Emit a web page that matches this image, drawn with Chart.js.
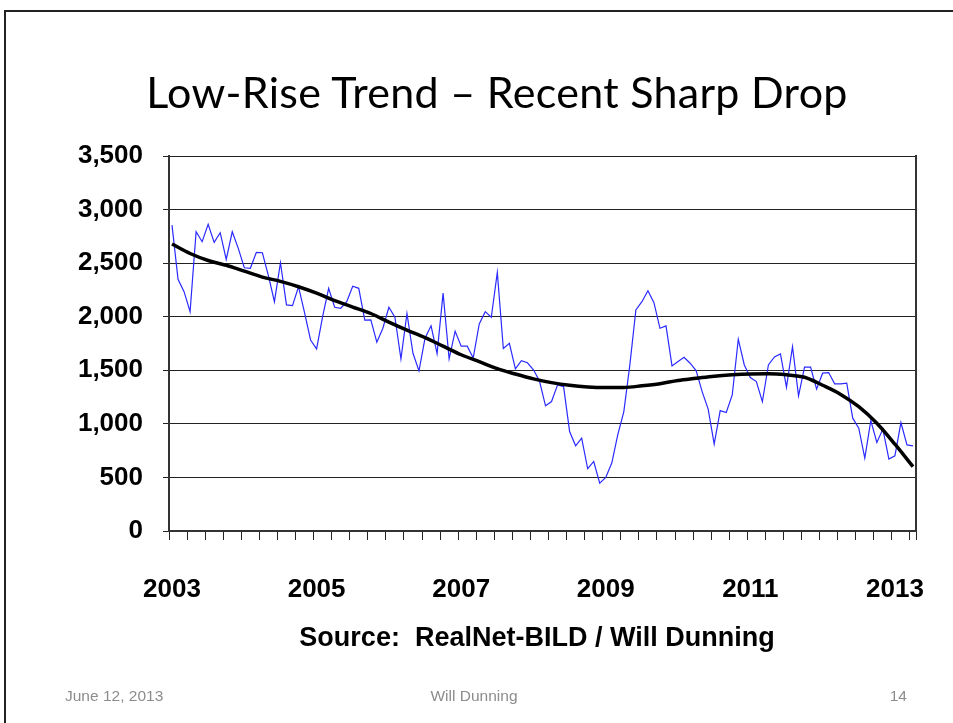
<!DOCTYPE html>
<html>
<head>
<meta charset="utf-8">
<script src="https://cdn.jsdelivr.net/npm/chart.js@4.4.0/dist/chart.umd.min.js"></script>
<style>
  body { margin: 0; background: #fff; }
  #slide { position: relative; width: 953px; height: 723px; overflow: hidden; background: #fff; }
  #frame { position: absolute; left: 4px; top: 10px; width: 2000px; height: 2000px;
           border-left: 2px solid #222; border-top: 2px solid #222; }
  #chart { position: absolute; left: 0; top: 0; }
  .txt { position: absolute; white-space: nowrap; }
  #title { top: 66px; left: 497px; transform: translateX(-50%); font: 43px Lato, "Open Sans", sans-serif; color: #000; letter-spacing: 0.3px; }
  #source { top: 622px; left: 537px; transform: translateX(-50%); font: bold 27px "Liberation Sans", Arial, sans-serif; color: #000; }
  .foot { top: 687px; font: 15.5px "Liberation Sans", Arial, sans-serif; color: #8c8c8c; }
</style>
</head>
<body>
<div id="slide">
  <div id="frame"></div>
  <canvas id="chart" width="953" height="723"></canvas>
  <div id="title" class="txt">Low-Rise Trend – Recent Sharp Drop</div>
  <div id="source" class="txt">Source:&nbsp; RealNet-BILD / Will Dunning</div>
  <div class="txt foot" style="left:65px">June 12, 2013</div>
  <div class="txt foot" style="left:474px; transform: translateX(-50%)">Will Dunning</div>
  <div class="txt foot" style="right:46px">14</div>
</div>
<script>
// monthly categories, Jan 2003 .. Apr 2013
const startYear = 2003;
const monthCount = 124;
const yearLabels = ['2003', '2005', '2007', '2009', '2011', '2013'];

// monthly low-rise sales
const lowRiseSales = [
  2855, 2349, 2234, 2047, 2793, 2700, 2862, 2694, 2784, 2535, 2793, 2638,
  2457, 2452, 2601, 2597, 2383, 2140, 2504, 2110, 2103, 2280, 2038, 1783,
  1700, 2000, 2265, 2088, 2079, 2141, 2285, 2265, 1968, 1970, 1762, 1892,
  2088, 1995, 1606, 2030, 1659, 1495, 1800, 1915, 1655, 2220, 1606, 1865,
  1725, 1725, 1615, 1932, 2047, 1995, 2414, 1703, 1752, 1513, 1590, 1570,
  1505, 1400, 1168, 1208, 1364, 1348, 928, 795, 867, 581, 649, 447,
  500, 634, 900, 1115, 1550, 2063, 2140, 2243, 2131, 1892, 1914, 1541,
  1581, 1622, 1566, 1497, 1301, 1137, 811, 1124, 1106, 1271, 1790, 1550,
  1432, 1395, 1208, 1550, 1625, 1653, 1342, 1721, 1261, 1529, 1529, 1324,
  1473, 1479, 1373, 1373, 1380, 1053, 960, 681, 1031, 826, 951, 671,
  702, 1012, 804, 795
];

// trend line, one reading per quarter (Jan, Apr, Jul, Oct)
const trendQuarterly = [
  2678, 2590, 2525, 2480, 2425, 2370, 2330, 2280, 2220, 2150,
  2090, 2030, 1950, 1875, 1805, 1725, 1645, 1580, 1515, 1465,
  1420, 1385, 1360, 1345, 1340, 1340, 1355, 1375, 1405, 1425,
  1445, 1458, 1466, 1468, 1458, 1435, 1360, 1275, 1160, 1005,
  810, 600
];

const months = [];
for (let i = 0; i < monthCount; i++) {
  const y = startYear + Math.floor(i / 12);
  const m = (i % 12) + 1;
  months.push(y + '-' + (m < 10 ? '0' + m : m));
}
const trendPoints = trendQuarterly.map((v, q) => ({ x: months[q * 3], y: v }));

const axisFont = { family: '"Liberation Sans", Arial', size: 26, weight: 'bold' };

const ctx = document.getElementById('chart').getContext('2d');
new Chart(ctx, {
  type: 'line',
  data: {
    labels: months,
    datasets: [
      {
        label: 'Trend',
        data: trendPoints,
        borderColor: '#000',
        borderWidth: 3.5,
        pointRadius: 0,
        tension: 0.4,
        cubicInterpolationMode: 'monotone',
        order: 0
      },
      {
        label: 'Low-rise sales',
        data: lowRiseSales,
        borderColor: '#2a2aff',
        borderWidth: 1.2,
        pointRadius: 0,
        tension: 0,
        order: 1
      }
    ]
  },
  options: {
    responsive: false,
    animation: false,
    layout: { padding: { top: 156, right: 0, left: 0, bottom: 0 } },
    plugins: { legend: { display: false }, tooltip: { enabled: false } },
    scales: {
      x: {
        offset: true,
        grid: {
          offset: true,
          drawOnChartArea: false,
          drawTicks: true,
          tickLength: 9,
          lineWidth: 1,
          color: c => (c.index === undefined || c.index % 3 === 0) ? '#222' : 'rgba(0,0,0,0)'
        },
        border: { color: '#333', width: 2 },
        ticks: {
          autoSkip: false,
          maxRotation: 0,
          padding: 34,
          color: '#000',
          font: axisFont,
          callback: function(value) {
            const lab = this.getLabelForValue(value);
            const yr = lab.slice(0, 4);
            return (lab.endsWith('-01') && yearLabels.includes(yr)) ? yr : '';
          }
        },
        afterFit: s => { s.height = 723 - 531; }
      },
      y: {
        min: 0,
        max: 3500,
        ticks: {
          stepSize: 500,
          padding: 20,
          color: '#000',
          font: axisFont,
          callback: v => v.toLocaleString('en-US')
        },
        grid: { color: '#222', lineWidth: 1, tickLength: 6 },
        border: { color: '#333', width: 2 },
        afterFit: s => { s.width = 169; }
      },
      y2: {
        position: 'right',
        min: 0,
        max: 3500,
        ticks: { display: false },
        grid: { drawOnChartArea: false, drawTicks: false },
        border: { color: '#333', width: 2 },
        afterFit: s => { s.width = 953 - 916; }
      }
    }
  }
});
</script>
</body>
</html>
